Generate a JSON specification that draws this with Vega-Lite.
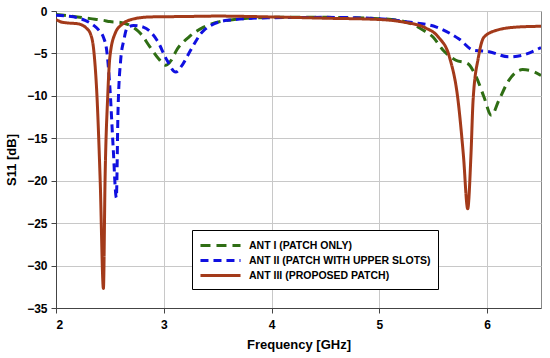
{
  "$schema": "https://vega.github.io/schema/vega-lite/v6.json",
  "autosize": "none",
  "width": 485,
  "height": 297,
  "padding": {"left": 56, "top": 11, "right": 9, "bottom": 50},
  "background": "white",
  "config": {
    "font": "Liberation Sans",
    "view": {"stroke": "#888888", "strokeWidth": 1},
    "axis": {
      "labelFont": "Liberation Sans", "labelFontWeight": "bold", "labelFontSize": 12, "labelColor": "#000000",
      "titleFont": "Liberation Sans", "titleFontWeight": "bold", "titleFontSize": 13, "titleColor": "#000000",
      "gridColor": "#c8c8c8", "gridWidth": 1, "domainColor": "#444444", "tickColor": "#444444", "tickSize": 5
    }
  },
  "data": {"values": [
    {"series": "ANT I (PATCH ONLY)", "f": 2.0, "s": -0.4},
    {"series": "ANT I (PATCH ONLY)", "f": 2.1, "s": -0.55},
    {"series": "ANT I (PATCH ONLY)", "f": 2.2, "s": -0.7},
    {"series": "ANT I (PATCH ONLY)", "f": 2.32, "s": -0.9},
    {"series": "ANT I (PATCH ONLY)", "f": 2.44, "s": -1.1},
    {"series": "ANT I (PATCH ONLY)", "f": 2.5, "s": -1.25},
    {"series": "ANT I (PATCH ONLY)", "f": 2.6, "s": -1.35},
    {"series": "ANT I (PATCH ONLY)", "f": 2.7, "s": -1.8},
    {"series": "ANT I (PATCH ONLY)", "f": 2.78, "s": -2.6},
    {"series": "ANT I (PATCH ONLY)", "f": 2.87, "s": -4.2},
    {"series": "ANT I (PATCH ONLY)", "f": 2.95, "s": -5.6},
    {"series": "ANT I (PATCH ONLY)", "f": 3.02, "s": -6.4},
    {"series": "ANT I (PATCH ONLY)", "f": 3.07, "s": -5.8},
    {"series": "ANT I (PATCH ONLY)", "f": 3.12, "s": -4.6},
    {"series": "ANT I (PATCH ONLY)", "f": 3.23, "s": -3.1},
    {"series": "ANT I (PATCH ONLY)", "f": 3.37, "s": -1.9},
    {"series": "ANT I (PATCH ONLY)", "f": 3.6, "s": -1.1},
    {"series": "ANT I (PATCH ONLY)", "f": 4.0, "s": -0.75},
    {"series": "ANT I (PATCH ONLY)", "f": 4.5, "s": -0.75},
    {"series": "ANT I (PATCH ONLY)", "f": 5.0, "s": -0.9},
    {"series": "ANT I (PATCH ONLY)", "f": 5.22, "s": -1.2},
    {"series": "ANT I (PATCH ONLY)", "f": 5.4, "s": -2.2},
    {"series": "ANT I (PATCH ONLY)", "f": 5.5, "s": -3.1},
    {"series": "ANT I (PATCH ONLY)", "f": 5.59, "s": -4.6},
    {"series": "ANT I (PATCH ONLY)", "f": 5.71, "s": -5.8},
    {"series": "ANT I (PATCH ONLY)", "f": 5.82, "s": -6.2},
    {"series": "ANT I (PATCH ONLY)", "f": 5.9, "s": -7.8},
    {"series": "ANT I (PATCH ONLY)", "f": 5.97, "s": -10.1},
    {"series": "ANT I (PATCH ONLY)", "f": 6.04, "s": -12.3},
    {"series": "ANT I (PATCH ONLY)", "f": 6.11, "s": -10.5},
    {"series": "ANT I (PATCH ONLY)", "f": 6.2, "s": -8.2},
    {"series": "ANT I (PATCH ONLY)", "f": 6.33, "s": -6.9},
    {"series": "ANT I (PATCH ONLY)", "f": 6.4, "s": -7.0},
    {"series": "ANT I (PATCH ONLY)", "f": 6.5, "s": -7.6},

    {"series": "ANT II (PATCH WITH UPPER SLOTS)", "f": 2.0, "s": -0.5},
    {"series": "ANT II (PATCH WITH UPPER SLOTS)", "f": 2.1, "s": -0.6},
    {"series": "ANT II (PATCH WITH UPPER SLOTS)", "f": 2.2, "s": -0.8},
    {"series": "ANT II (PATCH WITH UPPER SLOTS)", "f": 2.27, "s": -1.1},
    {"series": "ANT II (PATCH WITH UPPER SLOTS)", "f": 2.35, "s": -1.7},
    {"series": "ANT II (PATCH WITH UPPER SLOTS)", "f": 2.4, "s": -2.3},
    {"series": "ANT II (PATCH WITH UPPER SLOTS)", "f": 2.44, "s": -3.1},
    {"series": "ANT II (PATCH WITH UPPER SLOTS)", "f": 2.47, "s": -4.6},
    {"series": "ANT II (PATCH WITH UPPER SLOTS)", "f": 2.5, "s": -9},
    {"series": "ANT II (PATCH WITH UPPER SLOTS)", "f": 2.53, "s": -16},
    {"series": "ANT II (PATCH WITH UPPER SLOTS)", "f": 2.56, "s": -22},
    {"series": "ANT II (PATCH WITH UPPER SLOTS)", "f": 2.575, "s": -12},
    {"series": "ANT II (PATCH WITH UPPER SLOTS)", "f": 2.6, "s": -5.8},
    {"series": "ANT II (PATCH WITH UPPER SLOTS)", "f": 2.63, "s": -3.4},
    {"series": "ANT II (PATCH WITH UPPER SLOTS)", "f": 2.66, "s": -2.0},
    {"series": "ANT II (PATCH WITH UPPER SLOTS)", "f": 2.72, "s": -1.7},
    {"series": "ANT II (PATCH WITH UPPER SLOTS)", "f": 2.81, "s": -1.9},
    {"series": "ANT II (PATCH WITH UPPER SLOTS)", "f": 2.94, "s": -3.5},
    {"series": "ANT II (PATCH WITH UPPER SLOTS)", "f": 3.03, "s": -5.8},
    {"series": "ANT II (PATCH WITH UPPER SLOTS)", "f": 3.11, "s": -7.2},
    {"series": "ANT II (PATCH WITH UPPER SLOTS)", "f": 3.18, "s": -6.2},
    {"series": "ANT II (PATCH WITH UPPER SLOTS)", "f": 3.25, "s": -4.6},
    {"series": "ANT II (PATCH WITH UPPER SLOTS)", "f": 3.37, "s": -2.3},
    {"series": "ANT II (PATCH WITH UPPER SLOTS)", "f": 3.59, "s": -1.1},
    {"series": "ANT II (PATCH WITH UPPER SLOTS)", "f": 3.96, "s": -0.8},
    {"series": "ANT II (PATCH WITH UPPER SLOTS)", "f": 4.5, "s": -0.75},
    {"series": "ANT II (PATCH WITH UPPER SLOTS)", "f": 5.0, "s": -0.9},
    {"series": "ANT II (PATCH WITH UPPER SLOTS)", "f": 5.27, "s": -1.3},
    {"series": "ANT II (PATCH WITH UPPER SLOTS)", "f": 5.53, "s": -1.9},
    {"series": "ANT II (PATCH WITH UPPER SLOTS)", "f": 5.74, "s": -3.3},
    {"series": "ANT II (PATCH WITH UPPER SLOTS)", "f": 5.87, "s": -4.6},
    {"series": "ANT II (PATCH WITH UPPER SLOTS)", "f": 6.02, "s": -4.8},
    {"series": "ANT II (PATCH WITH UPPER SLOTS)", "f": 6.2, "s": -5.4},
    {"series": "ANT II (PATCH WITH UPPER SLOTS)", "f": 6.33, "s": -5.2},
    {"series": "ANT II (PATCH WITH UPPER SLOTS)", "f": 6.5, "s": -4.3},

    {"series": "ANT III (PROPOSED PATCH)", "f": 2.0, "s": -1.0},
    {"series": "ANT III (PROPOSED PATCH)", "f": 2.05, "s": -1.3},
    {"series": "ANT III (PROPOSED PATCH)", "f": 2.1, "s": -1.4},
    {"series": "ANT III (PROPOSED PATCH)", "f": 2.2, "s": -1.5},
    {"series": "ANT III (PROPOSED PATCH)", "f": 2.28, "s": -2.0},
    {"series": "ANT III (PROPOSED PATCH)", "f": 2.32, "s": -2.7},
    {"series": "ANT III (PROPOSED PATCH)", "f": 2.35, "s": -4.6},
    {"series": "ANT III (PROPOSED PATCH)", "f": 2.38, "s": -10},
    {"series": "ANT III (PROPOSED PATCH)", "f": 2.41, "s": -20},
    {"series": "ANT III (PROPOSED PATCH)", "f": 2.44, "s": -32.7},
    {"series": "ANT III (PROPOSED PATCH)", "f": 2.455, "s": -20},
    {"series": "ANT III (PROPOSED PATCH)", "f": 2.48, "s": -10},
    {"series": "ANT III (PROPOSED PATCH)", "f": 2.5, "s": -5.4},
    {"series": "ANT III (PROPOSED PATCH)", "f": 2.55, "s": -2.6},
    {"series": "ANT III (PROPOSED PATCH)", "f": 2.62, "s": -1.5},
    {"series": "ANT III (PROPOSED PATCH)", "f": 2.7, "s": -1.0},
    {"series": "ANT III (PROPOSED PATCH)", "f": 2.87, "s": -0.7},
    {"series": "ANT III (PROPOSED PATCH)", "f": 3.2, "s": -0.65},
    {"series": "ANT III (PROPOSED PATCH)", "f": 3.5, "s": -0.6},
    {"series": "ANT III (PROPOSED PATCH)", "f": 4.0, "s": -0.7},
    {"series": "ANT III (PROPOSED PATCH)", "f": 4.5, "s": -0.85},
    {"series": "ANT III (PROPOSED PATCH)", "f": 5.0, "s": -1.0},
    {"series": "ANT III (PROPOSED PATCH)", "f": 5.22, "s": -1.3},
    {"series": "ANT III (PROPOSED PATCH)", "f": 5.43, "s": -2.0},
    {"series": "ANT III (PROPOSED PATCH)", "f": 5.55, "s": -3.1},
    {"series": "ANT III (PROPOSED PATCH)", "f": 5.65, "s": -5.4},
    {"series": "ANT III (PROPOSED PATCH)", "f": 5.73, "s": -10.5},
    {"series": "ANT III (PROPOSED PATCH)", "f": 5.78, "s": -17},
    {"series": "ANT III (PROPOSED PATCH)", "f": 5.82, "s": -23.3},
    {"series": "ANT III (PROPOSED PATCH)", "f": 5.85, "s": -17},
    {"series": "ANT III (PROPOSED PATCH)", "f": 5.87, "s": -10.5},
    {"series": "ANT III (PROPOSED PATCH)", "f": 5.92, "s": -5.4},
    {"series": "ANT III (PROPOSED PATCH)", "f": 5.97, "s": -3.1},
    {"series": "ANT III (PROPOSED PATCH)", "f": 6.08, "s": -2.3},
    {"series": "ANT III (PROPOSED PATCH)", "f": 6.27, "s": -1.9},
    {"series": "ANT III (PROPOSED PATCH)", "f": 6.5, "s": -1.8}
  ]},
  "mark": {"type": "line", "interpolate": "monotone", "strokeWidth": 3, "clip": true},
  "encoding": {
    "x": {"field": "f", "type": "quantitative", "title": "Frequency [GHz]",
      "scale": {"domain": [2, 6.5], "nice": false, "zero": false},
      "axis": {"values": [2, 3, 4, 5, 6], "labelPadding": 6, "titlePadding": 8}},
    "y": {"field": "s", "type": "quantitative", "title": "S11 [dB]",
      "scale": {"domain": [-35, 0], "nice": false},
      "axis": {"values": [0, -5, -10, -15, -20, -25, -30, -35], "labelPadding": 4, "titlePadding": 8}},
    "color": {"field": "series", "type": "nominal",
      "scale": {"domain": ["ANT I (PATCH ONLY)", "ANT II (PATCH WITH UPPER SLOTS)", "ANT III (PROPOSED PATCH)"],
        "range": ["#2f6e14", "#1010e0", "#a33a1a"]},
      "legend": {"title": null, "orient": "none", "legendX": 136, "legendY": 219,
        "fillColor": "white", "strokeColor": "#000000", "padding": 7,
        "symbolType": "M-2.86,0H2.86", "symbolSize": 196, "symbolStrokeWidth": 3, "symbolOffset": 13,
        "labelFont": "Liberation Sans", "labelFontWeight": "bold", "labelFontSize": 10.5, "labelColor": "#000000",
        "labelLimit": 300, "rowPadding": 0, "labelOffset": 20}},
    "strokeDash": {"field": "series", "type": "nominal",
      "scale": {"domain": ["ANT I (PATCH ONLY)", "ANT II (PATCH WITH UPPER SLOTS)", "ANT III (PROPOSED PATCH)"],
        "range": [[10, 6], [8, 5], [1, 0]]},
      "legend": null}
  }
}
